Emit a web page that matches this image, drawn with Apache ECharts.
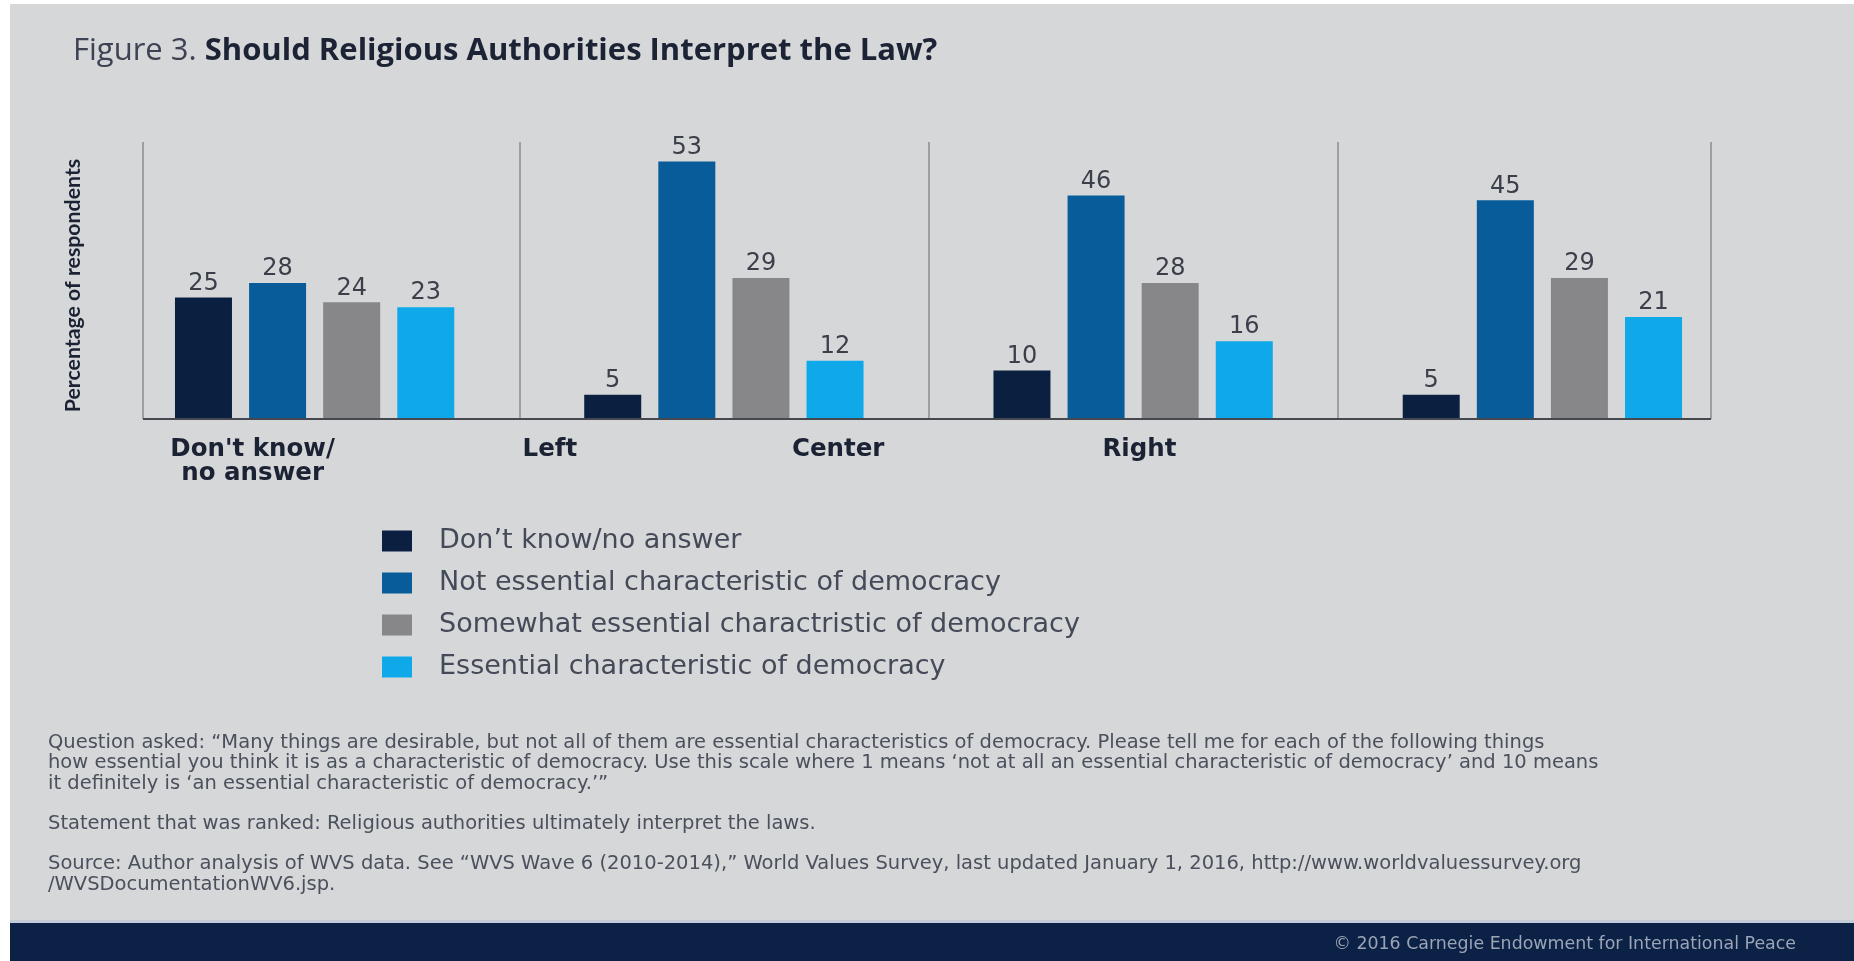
<!DOCTYPE html>
<html>
<head>
<meta charset="utf-8">
<script src="https://cdn.jsdelivr.net/npm/echarts@6/dist/echarts.min.js"></script>
<style>
html,body{margin:0;padding:0;background:#fff;}
#c{width:1854px;height:961px;}
</style>
</head>
<body>
<div id="c"></div>
<script>
// ---- data ----
var categories = ["Don't know/\nno answer", "Left", "Center", "Right"];
var seriesNames = [
  "Don’t know/no answer",
  "Not essential characteristic of democracy",
  "Somewhat essential charactristic of democracy",
  "Essential characteristic of democracy"
];
var dontKnow      = [25, 5, 10, 5];
var notEssential  = [28, 53, 46, 45];
var somewhat      = [24, 29, 28, 29];
var essential     = [23, 12, 16, 21];
var seriesColors = ["#0b2040", "#075c99", "#87878a", "#0fa9ea"];

var titleMain = "Should Religious Authorities Interpret the Law?";
var notesText = [
  "Question asked: “Many things are desirable, but not all of them are essential characteristics of democracy. Please tell me for each of the following things",
  "how essential you think it is as a characteristic of democracy. Use this scale where 1 means ‘not at all an essential characteristic of democracy’ and 10 means",
  "it definitely is ‘an essential characteristic of democracy.’”",
  "",
  "Statement that was ranked: Religious authorities ultimately interpret the laws.",
  "",
  "Source: Author analysis of WVS data. See “WVS Wave 6 (2010-2014),” World Values Survey, last updated January 1, 2016, http://www.worldvaluessurvey.org",
  "/WVSDocumentationWV6.jsp."
];
var footerText = "© 2016 Carnegie Endowment for International Peace";

// label horizontal shifts (px) of the category labels relative to their group
var labelShift = [-62, -174, -295, -403];

var chart = echarts.init(document.getElementById('c'));

var rich = {};
categories.forEach(function (c, i) {
  rich['c' + i] = {
    fontFamily: 'DejaVu Sans', fontWeight: 'bold', fontSize: 24.5, color: '#1b2233',
    lineHeight: 23.5, padding: [0, -2 * labelShift[i], 0, 0]
  };
});

var dataSets = [dontKnow, notEssential, somewhat, essential];
var series = dataSets.map(function (d, i) {
  return {
    name: seriesNames[i],
    type: 'bar',
    data: d,
    barWidth: 57,
    barGap: '30%',
    itemStyle: { color: seriesColors[i] },
    label: {
      show: true, position: 'top', distance: 2,
      fontFamily: 'DejaVu Sans', fontSize: 24, color: '#3a3f49'
    }
  };
});

chart.setOption({
  backgroundColor: '#d6d7d9',
  animation: false,
  title: [
    {
      left: 68, top: 31,
      text: '{a|Figure 3. }{b|' + titleMain + '}',
      textStyle: {
        fontWeight: 'normal',
        rich: {
          a: { fontFamily: 'Open Sans', fontSize: 31, fontWeight: 'normal', color: '#3d4352' },
          b: { fontFamily: 'Open Sans', fontSize: 31, fontWeight: 'bold', color: '#1c2334' }
        }
      }
    },
    {
      left: 43, top: 728,
      text: notesText.join('\n'),
      textStyle: { fontFamily: 'DejaVu Sans', fontSize: 19.5, fontWeight: 'normal', color: '#4a505c', lineHeight: 20.2 }
    },
    {
      right: 53, top: 931, z: 10,
      text: footerText,
      textStyle: { fontFamily: 'DejaVu Sans', fontSize: 17.4, fontWeight: 'normal', color: '#9ba4b6' }
    }
  ],
  legend: {
    orient: 'vertical',
    left: 377, top: 521,
    itemWidth: 30, itemHeight: 21, itemGap: 12,
    icon: 'rect',
    data: seriesNames,
    textStyle: { fontFamily: 'DejaVu Sans', fontSize: 27, color: '#444a57', lineHeight: 30, padding: [0, 0, 0, 22] }
  },
  grid: { left: 110, right: 107, top: 142, bottom: 542, containLabel: false, outerBoundsMode: 'none' },
  xAxis: {
    type: 'category',
    data: categories,
    axisLine: { show: false },
    axisTick: { show: false },
    splitLine: { show: true, showMinLine: false, showMaxLine: false, lineStyle: { color: '#8c8c8e', width: 1.5 } },
    axisLabel: {
      interval: 0, margin: 19, hideOverlap: false,
      formatter: function (v, idx) {
        return v.split('\n').map(function (s) { return '{c' + idx + '|' + s + '}'; }).join('\n');
      },
      rich: rich
    }
  },
  yAxis: {
    type: 'value', min: 0, max: 57,
    name: 'Percentage of respondents',
    nameLocation: 'middle', nameGap: 26, nameRotate: 90,
    nameTextStyle: { fontFamily: 'Lato', fontWeight: 'bold', fontSize: 21.3, color: '#1b2233', padding: [0, 10, 0, 0] },
    axisLine: { show: false }, axisTick: { show: false }, axisLabel: { show: false },
    splitLine: { show: false }
  },
  graphic: [
    { type: 'rect', shape: { x: 0, y: 0, width: 10, height: 961 }, style: { fill: '#ffffff' }, z: 0 },
    { type: 'rect', shape: { x: 0, y: 0, width: 1854, height: 4 }, style: { fill: '#ffffff' }, z: 0 },
    { type: 'rect', shape: { x: 10, y: 920, width: 1844, height: 3 }, style: { fill: '#c3ccd8' }, z: 0 },
    { type: 'rect', shape: { x: 10, y: 923, width: 1844, height: 38 }, style: { fill: '#0b2145' }, z: 0 },
    { type: 'line', shape: { x1: 143, y1: 142, x2: 143, y2: 419 }, style: { stroke: '#8c8c8e', lineWidth: 1.5 }, z: 0 },
    { type: 'line', shape: { x1: 1711, y1: 142, x2: 1711, y2: 419 }, style: { stroke: '#8c8c8e', lineWidth: 1.5 }, z: 0 },
    { type: 'line', shape: { x1: 143, y1: 419, x2: 1711, y2: 419 }, style: { stroke: '#45484f', lineWidth: 2 }, z: 100 }
  ],
  series: series
});
</script>
</body>
</html>
